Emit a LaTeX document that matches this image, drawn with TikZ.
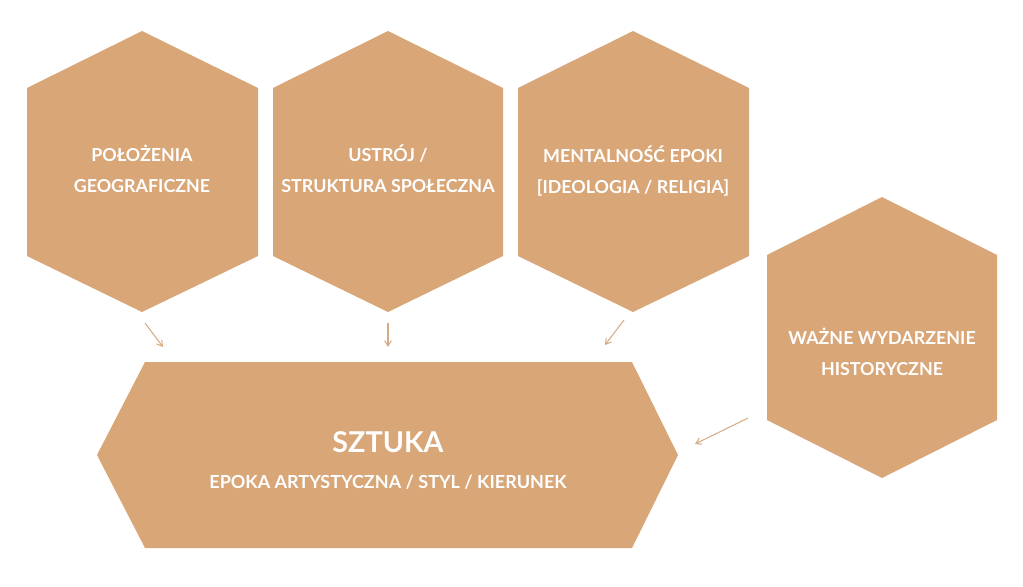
\documentclass[tikz,border=0pt]{standalone}
\usepackage{fontspec}
\setmainfont{Lato}
\usepackage{tikz}
\usetikzlibrary{arrows.meta}
\definecolor{tan}{RGB}{216,166,119}
\definecolor{tanline}{RGB}{214,172,134}

\begin{document}
\begin{tikzpicture}[x=0.75pt,y=0.75pt,yscale=-1,xscale=1]
%set diagram start at 0, with height of 586
\useasboundingbox (0,0) rectangle (1023,586);

%Shape: Hexagon [id:geo] 
\fill [tan] (142,31) -- (258,88) -- (258,256) -- (142,312) -- (27,256) -- (27,88) -- cycle ;
%Shape: Hexagon [id:ustroj] 
\fill [tan] (388,31) -- (503,88) -- (503,256) -- (388,312) -- (273,256) -- (273,88) -- cycle ;
%Shape: Hexagon [id:mental] 
\fill [tan] (633,31) -- (749,88) -- (749,256) -- (633,312) -- (518,256) -- (518,88) -- cycle ;
%Shape: Hexagon [id:wydarz] 
\fill [tan] (882,197) -- (997,255) -- (997,420) -- (882,478) -- (767,420) -- (767,255) -- cycle ;
%Shape: Hexagon [id:sztuka] 
\fill [tan] (97,455) -- (145,362) -- (632,362) -- (678,455) -- (632,548) -- (145,548) -- cycle ;

% Text Node
\draw (142,169) node (geo) [align=center,text=white,font=\bfseries\fontsize{13.4}{23.5}\selectfont] {POŁOŻENIA\\GEOGRAFICZNE};
% Text Node
\draw (388,169) node (ustroj) [align=center,text=white,font=\bfseries\fontsize{13.4}{23.5}\selectfont] {USTRÓJ /\\STRUKTURA SPOŁECZNA};
% Text Node
\draw (633,171) node (mental) [align=center,text=white,font=\bfseries\fontsize{13.4}{23.5}\selectfont] {MENTALNOŚĆ EPOKI\\{[}IDEOLOGIA / RELIGIA{]}};
% Text Node
\draw (882,352) node (wydarz) [align=center,text=white,font=\bfseries\fontsize{13.4}{23.5}\selectfont] {WAŻNE WYDARZENIE\\HISTORYCZNE};
% Text Node
\draw (388,442) node (sztuka) [text=white,font=\bfseries\fontsize{21.5}{24}\selectfont] {SZTUKA};
% Text Node
\draw (388,482) node (epoka) [text=white,font=\bfseries\fontsize{13.5}{15}\selectfont] {EPOKA ARTYSTYCZNA / STYL / KIERUNEK};

%Arrow ends
\coordinate (geoout) at (145,323);
\coordinate (geoin) at (163,347);
\coordinate (ustrojout) at (388,323);
\coordinate (ustrojin) at (388,347);
\coordinate (mentalout) at (624,320);
\coordinate (mentalin) at (605,345);
\coordinate (wydarzout) at (748,418);
\coordinate (wydarzin) at (695,444);

%Straight Lines 
\draw [tanline,line width=0.8,-{Straight Barb[length=4pt,width=5pt]}] (geoout) -- (geoin) ;
%Straight Lines 
\draw [tanline,line width=0.8,-{Straight Barb[length=4pt,width=5pt]}] (ustrojout) -- (ustrojin) ;
%Straight Lines 
\draw [tanline,line width=0.8,-{Straight Barb[length=4pt,width=5pt]}] (mentalout) -- (mentalin) ;
%Straight Lines 
\draw [tanline,line width=0.8,-{Straight Barb[length=4pt,width=5pt]}] (wydarzout) -- (wydarzin) ;

\end{tikzpicture}
\end{document}
